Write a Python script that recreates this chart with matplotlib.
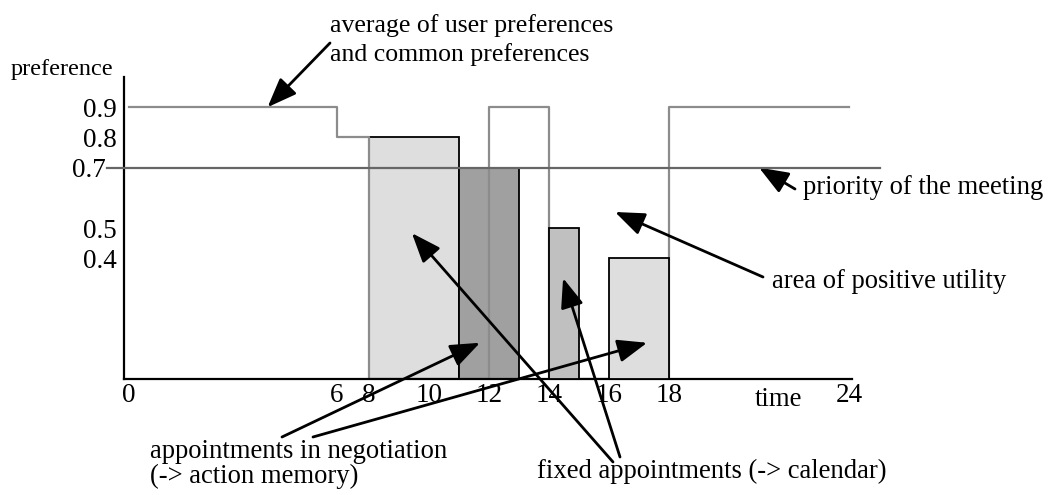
import numpy as np
import matplotlib
matplotlib.use("Agg")
import matplotlib.pyplot as plt

# preference curve (step, value holds until next time)
pref_times = [0, 6, 8, 12, 14, 18, 24]
pref_values = [0.9, 0.8, 0.0, 0.9, 0.0, 0.9, 0.9]

# priority of the meeting
priority = 0.7

# appointments: start, end, preference
appt_start = [8, 11, 14, 16]
appt_end = [11, 13, 15, 18]
appt_pref = [0.8, 0.7, 0.5, 0.4]
appt_colors = ['#dedede', '#a0a0a0', '#c0c0c0', '#dedede']
appt_z = [1, 1, 3, 3]

xticks = [0, 6, 8, 10, 12, 14, 16, 18, 24]
yticks = [0.4, 0.5, 0.7, 0.8, 0.9]

plt.rcParams['font.family'] = ['Liberation Serif', 'DejaVu Serif']

# the drawing is schematic: 0..6 is a bit stretched
k = 6.93 / 6


def fwd(x):
    x = np.asarray(x, dtype=float)
    return np.where(x < 6, x * k, np.where(x < 8, 6 * k + (x - 6) * (8 - 6 * k) / 2, x))


def inv(y):
    y = np.asarray(y, dtype=float)
    return np.where(y < 6 * k, y / k, np.where(y < 8, 6 + (y - 6 * k) * 2 / (8 - 6 * k), y))


fig = plt.figure(figsize=(10.48, 4.95), dpi=100)
ax = fig.add_axes([124 / 1048, 116 / 495, 728 / 1048, 302 / 495])
ax.set_xscale('function', functions=(fwd, inv))
ax.set_xlim(-0.144, 24.1)
ax.set_ylim(0, 1.0)

for s, e, p, c, z in zip(appt_start, appt_end, appt_pref, appt_colors, appt_z):
    ax.bar(s, p, width=e - s, align='edge', color=c, edgecolor='black', linewidth=1.3, zorder=z)

ax.step(pref_times, pref_values, where='post', color='#8c8c8c', linewidth=1.6, zorder=2)
ax.axhline(priority, xmin=-0.0234, xmax=1.0385, color='#666666', linewidth=1.6, zorder=4, clip_on=False)

for side in ['top', 'right']:
    ax.spines[side].set_visible(False)
for side in ['left', 'bottom']:
    ax.spines[side].set_linewidth(1.6)
    ax.spines[side].set_color('black')

ax.set_xticks(xticks)
ax.set_xticklabels([str(t) for t in xticks])
ax.set_yticks(yticks)
ax.set_yticklabels([f'{t:.1f}' for t in yticks])
ax.tick_params(axis='both', length=0, labelsize=19.5)
ax.tick_params(axis='x', pad=3)
ax.tick_params(axis='y', pad=5)
for t in ax.yaxis.get_major_ticks():
    if abs(t.get_loc() - priority) < 1e-9:
        t.set_pad(13)
ax.xaxis.set_minor_locator(matplotlib.ticker.NullLocator())

fs = 19.2
fig.text(113, 425, 'preference', transform=None, ha='right', va='center', fontsize=17.5)
fig.text(778, 108, 'time', transform=None, ha='center', va='top', fontsize=fs)

aprops = dict(arrowstyle='-|>,head_length=0.9,head_width=0.35', mutation_scale=20,
              color='black', lw=2, shrinkA=0, shrinkB=0)

ax.annotate('', xy=(4.0, 0.9), xytext=(330, 452), textcoords='figure pixels', arrowprops=aprops)
fig.text(330, 455, 'average of user preferences\nand common preferences', transform=None,
         ha='left', va='center', fontsize=18.5, linespacing=1.3)

ax.annotate('', xy=(21.0, priority), xytext=(795, 306), textcoords='figure pixels', arrowprops=aprops)
fig.text(803, 308, 'priority of the meeting', transform=None, ha='left', va='center', fontsize=fs)

ax.annotate('', xy=(16.2, 0.553), xytext=(763, 218), textcoords='figure pixels', arrowprops=aprops)
fig.text(772, 213, 'area of positive utility', transform=None, ha='left', va='center', fontsize=fs)

ax.annotate('', xy=(11.7, 0.12), xytext=(282, 58), textcoords='figure pixels', arrowprops=aprops)
ax.annotate('', xy=(17.27, 0.12), xytext=(313, 58), textcoords='figure pixels', arrowprops=aprops)
fig.text(150, 31, 'appointments in negotiation\n(-> action memory)', transform=None,
         ha='left', va='center', fontsize=fs, linespacing=1.0)

ax.annotate('', xy=(9.43, 0.483), xytext=(613, 33), textcoords='figure pixels', arrowprops=aprops)
ax.annotate('', xy=(14.47, 0.334), xytext=(620, 38), textcoords='figure pixels', arrowprops=aprops)
fig.text(537, 24, 'fixed appointments (-> calendar)', transform=None, ha='left', va='center', fontsize=fs)

plt.savefig('out.png', dpi=100)
